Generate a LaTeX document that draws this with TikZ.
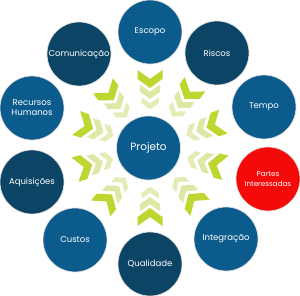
\documentclass[tikz,border=0pt]{standalone}
\usepackage{fontspec}
\setmainfont{Poppins}
\definecolor{blueA}{HTML}{0B5B8D}
\definecolor{blueB}{HTML}{0C4466}
\definecolor{redA}{HTML}{F50A0A}
\definecolor{chevA}{HTML}{BFD630}
\definecolor{chevB}{HTML}{DCE8A4}
\definecolor{chevC}{HTML}{E3ECB6}
\tikzset{
  circ/.style={circle, minimum size=64pt, inner sep=0pt, draw=black!12, line width=0.7pt, text=white, align=center, font=\fontsize{8.5}{10}\selectfont},
  lightc/.style={circ, fill=blueA},
  darkc/.style={circ, fill=blueB}
}
\newcommand\chevron[3]{\fill[#3, shift={(#1,0)}, scale=#2] (0,0) -- (9,12.5) -- (18,12.5) -- (9,0) -- (18,-12.5) -- (9,-12.5) -- cycle;}
\begin{document}
\begin{tikzpicture}[x=1pt,y=1pt]
\useasboundingbox (0,0) rectangle (300,296);
\foreach \a in {90,54.8,19.8,-14.7,-50.1,-90,-129.2,-163.9,161.3,127.1}{
  \begin{scope}[shift={(150,148)}, rotate=\a]
    \chevron{60}{1}{chevA}
    \chevron{49}{0.8}{chevB}
    \chevron{38.5}{0.68}{chevC}
  \end{scope}
}
\node[lightc, font=\fontsize{10.5}{12}\selectfont] (proj) at (148.5,148) {Projeto};
\node[lightc] (esc) at (150,264) {Escopo};
\node[darkc]  (ris) at (217,243) {Riscos};
\node[lightc] (tem) at (264,189) {Tempo};
\node[circ, fill=redA, font=\fontsize{7.2}{10}\selectfont] (par) at (268,117) {Partes\\Interessadas};
\node[lightc] (int) at (226,57) {Integração};
\node[darkc]  (qua) at (150,32) {Qualidade};
\node[lightc] (cus) at (75,56) {Custos};
\node[darkc]  (aqu) at (32,114) {Aquisições};
\node[lightc] (rh)  at (32,188) {Recursos\\Humanos};
\node[darkc]  (com) at (79,242) {Comunicação};
\end{tikzpicture}
\end{document}
